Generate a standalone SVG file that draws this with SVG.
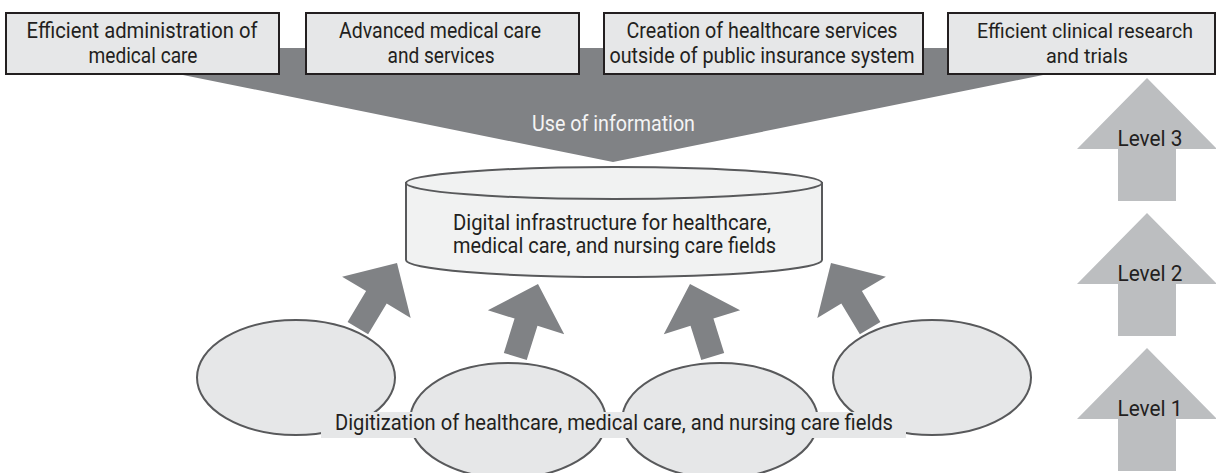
<svg xmlns="http://www.w3.org/2000/svg" width="1216" height="473" viewBox="0 0 1216 473">
  <style>
    text { font-family: Roboto, "Liberation Sans", "DejaVu Sans", sans-serif; font-size: 22px; fill: #231f20; text-anchor: middle; }
    .snug { font-size: 20.5px; }
    .box { fill: #e6e7e8; stroke: #231f20; stroke-width: 2; }
    .field { fill: #e6e7e8; stroke: #58595b; stroke-width: 2; }
    .infra { fill: #f1f2f2; stroke: #58595b; stroke-width: 2; }
    .flow { fill: #808285; }
    .level { fill: #bcbec0; }
    .on-dark { fill: #f4f4f4; }
  </style>
  <defs>
    <!-- thick up arrow, tip at origin -->
    <path id="up-arrow" d="M0,0 L40,40 L12,40 L12,76 L-12,76 L-12,40 L-40,40 Z"/>
    <!-- level step arrow, tip at origin -->
    <path id="level-arrow" d="M0,0 L70,71 L29,71 L29,123 L-29,123 L-29,71 L-70,71 Z"/>
  </defs>

  <!-- connectors: information funnel and digitization arrows -->
  <g id="connectors">
    <polygon class="flow" points="178,48 1048,48 1048,74 613,162 178,74"/>
    <text class="on-dark" x="613.5" y="131" textLength="163" lengthAdjust="spacingAndGlyphs">Use of information</text>
    <use href="#up-arrow" class="flow" transform="translate(397,263) rotate(31)"/>
    <use href="#up-arrow" class="flow" transform="translate(538,284) rotate(17.4)"/>
    <use href="#up-arrow" class="flow" transform="translate(690,284) rotate(-17.4)"/>
    <use href="#up-arrow" class="flow" transform="translate(831,263) rotate(-31)"/>
  </g>

  <!-- outcome boxes -->
  <g id="box-administration">
    <rect class="box" x="6" y="13" width="273" height="61"/>
    <text x="142" y="38" textLength="231" lengthAdjust="spacingAndGlyphs">Efficient administration of</text>
    <text x="143" y="63" textLength="109" lengthAdjust="spacingAndGlyphs">medical care</text>
  </g>
  <g id="box-advanced-care">
    <rect class="box" x="306" y="13" width="273" height="61"/>
    <text x="440" y="38" textLength="202" lengthAdjust="spacingAndGlyphs">Advanced medical care</text>
    <text x="441" y="63" textLength="107" lengthAdjust="spacingAndGlyphs">and services</text>
  </g>
  <g id="box-new-services">
    <rect class="box" x="604" y="13" width="319" height="61"/>
    <text x="762" y="38" textLength="271" lengthAdjust="spacingAndGlyphs">Creation of healthcare services</text>
    <text x="762" y="63" textLength="305" lengthAdjust="spacingAndGlyphs">outside of public insurance system</text>
  </g>
  <g id="box-clinical-research">
    <rect class="box" x="948" y="13" width="267" height="61"/>
    <text class="snug" x="1085" y="38" textLength="216" lengthAdjust="spacingAndGlyphs">Efficient clinical research</text>
    <text class="snug" x="1087" y="63" textLength="82" lengthAdjust="spacingAndGlyphs">and trials</text>
  </g>

  <!-- shared digital infrastructure (cylinder) -->
  <g id="infrastructure">
    <path class="infra" d="M406,183 L406,260 A208,17 0 0 0 822,260 L822,183 Z"/>
    <ellipse class="infra" cx="614" cy="183" rx="208" ry="16"/>
    <text x="612" y="230" textLength="318" lengthAdjust="spacingAndGlyphs">Digital infrastructure for healthcare,</text>
    <text x="614.5" y="253" textLength="323" lengthAdjust="spacingAndGlyphs">medical care, and nursing care fields</text>
  </g>

  <!-- digitized fields -->
  <g id="field-1"><ellipse class="field" cx="296" cy="377.5" rx="99" ry="57.5"/></g>
  <g id="field-4"><ellipse class="field" cx="932" cy="377.5" rx="99" ry="57.5"/></g>
  <g id="field-2"><ellipse class="field" cx="508" cy="420.5" rx="98" ry="57.5"/></g>
  <g id="field-3"><ellipse class="field" cx="720" cy="420.5" rx="98" ry="57.5"/></g>
  <g id="digitization-label">
    <rect x="321" y="412" width="585" height="26" fill="#e6e7e8"/>
    <text x="614" y="430" textLength="558" lengthAdjust="spacingAndGlyphs">Digitization of healthcare, medical care, and nursing care fields</text>
  </g>

  <!-- level scale -->
  <g id="level-3">
    <use href="#level-arrow" class="level" transform="translate(1147,78)"/>
    <text x="1150" y="146" textLength="65" lengthAdjust="spacingAndGlyphs">Level 3</text>
  </g>
  <g id="level-2">
    <use href="#level-arrow" class="level" transform="translate(1147,213)"/>
    <text x="1150" y="281" textLength="65" lengthAdjust="spacingAndGlyphs">Level 2</text>
  </g>
  <g id="level-1">
    <use href="#level-arrow" class="level" transform="translate(1147,348)"/>
    <text x="1150" y="416" textLength="65" lengthAdjust="spacingAndGlyphs">Level 1</text>
  </g>
</svg>
